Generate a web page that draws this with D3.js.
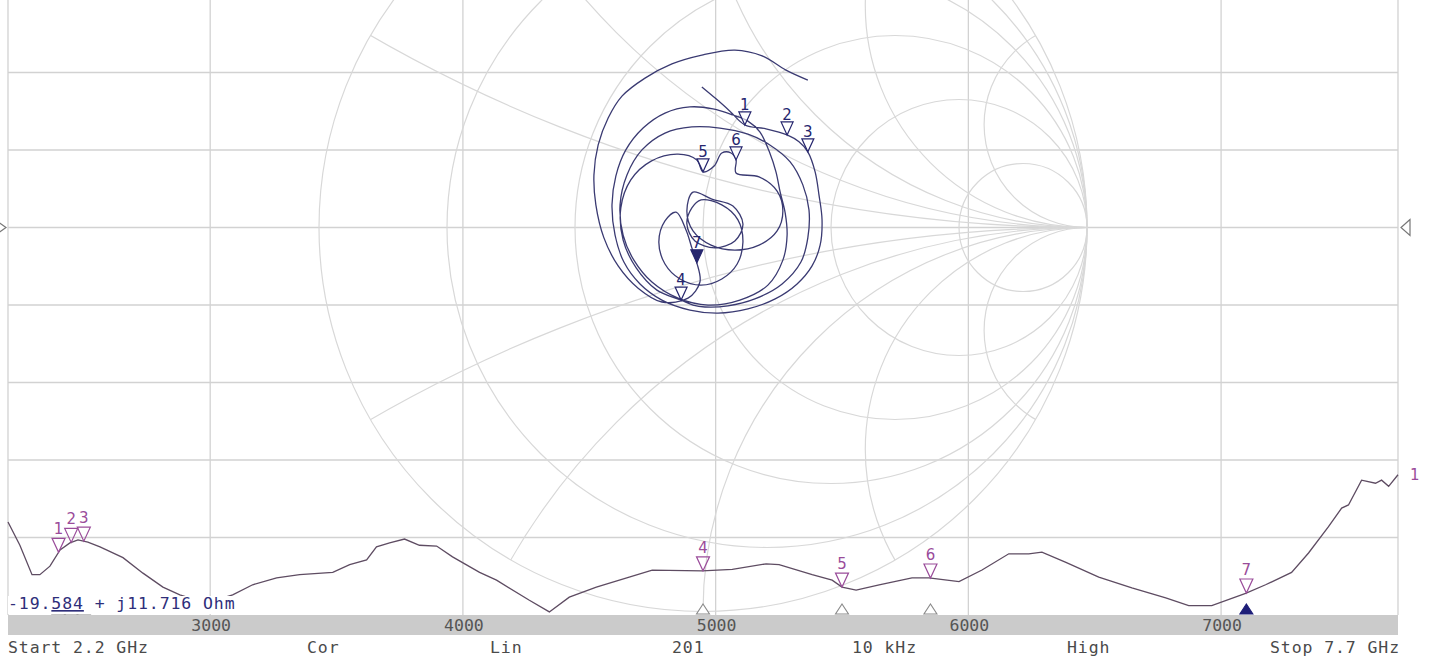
<!DOCTYPE html>
<html>
<head>
<meta charset="utf-8">
<script src="https://cdn.jsdelivr.net/npm/d3@7"></script>
<style>
  html, body { margin: 0; padding: 0; background: #fff; overflow: hidden; }
  svg { display: block; }
  text { font-family: "DejaVu Sans Mono", monospace; }
</style>
</head>
<body>
<svg id="chart" width="1429" height="664"></svg>
<script>
// sweep settings
const startMHz = 2200, stopMHz = 7700;
const freqTicks = [3000, 4000, 5000, 6000, 7000];
const swrGrid = [2, 3, 4, 5, 6, 7, 8, 9, 10];

// Smith trace (reflection coefficient)
const smithFreq = [2200, 2270, 2340, 2400, 2425, 2450, 2475, 2500,
  2540, 2580, 2620, 2660, 2700, 2740, 2780, 2820, 2860, 2900, 2940, 2980, 3020, 3060, 3100,
  3140, 3180, 3220, 3260, 3300, 3340, 3380, 3420, 3460, 3500,
  3540, 3580, 3620, 3660, 3700, 3740, 3780, 3820, 3860, 3900, 3940, 3980, 4020, 4060, 4100,
  4140, 4180, 4220, 4260, 4300, 4340, 4380, 4420, 4460, 4500, 4560, 4620, 4680, 4740, 4840, 4950,
  5020, 5090, 5160, 5230, 5300, 5370, 5440, 5470, 5500, 5580, 5660, 5740, 5850,
  5880, 5910, 5940, 5970, 6000, 6030, 6060, 6090, 6120, 6150,
  6180, 6210, 6250, 6290, 6330, 6370, 6410, 6450, 6490, 6530,
  6570, 6610, 6650, 6690, 6730, 6770, 6810, 6850, 6890, 6930,
  6970, 7010, 7050, 7100,
  7150, 7200, 7250, 7290, 7330, 7370, 7410, 7450, 7490, 7530, 7560, 7590, 7620, 7645, 7665,
  7680, 7690, 7700];
const smithRe = [-0.003, 0.034, 0.070, 0.109, 0.164, 0.219, 0.250, 0.273,
  0.292, 0.302, 0.310, 0.305, 0.284, 0.245, 0.188, 0.117, 0.039, -0.034, -0.107, -0.164, -0.206, -0.229, -0.237,
  -0.227, -0.201, -0.156, -0.099, -0.034, 0.026, 0.078, 0.117, 0.148, 0.174,
  0.190, 0.201, 0.214, 0.219, 0.208, 0.169, 0.096, 0.013, -0.065, -0.133, -0.180, -0.208, -0.216, -0.198, -0.159,
  -0.099, -0.029, 0.044, 0.117, 0.174, 0.227, 0.260, 0.276, 0.273, 0.255, 0.206, 0.135, 0.065, 0.005, -0.026, -0.057,
  -0.120, -0.174, -0.208, -0.214, -0.188, -0.135, -0.065, -0.016, 0.000, 0.029, 0.049, 0.073, 0.086,
  0.086, 0.146, 0.193, 0.208, 0.193, 0.146, 0.083, 0.021, -0.026, -0.042,
  -0.026, 0.023, 0.078, 0.104, 0.083, 0.031, -0.021, -0.042, -0.029, -0.005,
  0.049, 0.091, 0.104, 0.089, 0.049, -0.005, -0.060, -0.099, -0.115, -0.099,
  -0.070, -0.044, -0.029, -0.016,
  -0.008, -0.039, -0.107, -0.169, -0.221, -0.258, -0.279, -0.284, -0.273, -0.247, -0.211, -0.151, -0.081, -0.003, 0.083,
  0.154, 0.216, 0.273];
const smithIm = [0.366, 0.335, 0.303, 0.267, 0.257, 0.241, 0.223, 0.197,
  0.145, 0.085, 0.020, -0.046, -0.100, -0.147, -0.186, -0.212, -0.223, -0.215, -0.189, -0.147, -0.090, -0.020, 0.059,
  0.134, 0.202, 0.259, 0.298, 0.314, 0.309, 0.293, 0.277, 0.249, 0.194,
  0.145, 0.092, 0.038, -0.020, -0.085, -0.150, -0.189, -0.202, -0.184, -0.142, -0.085, -0.020, 0.059, 0.137, 0.202,
  0.246, 0.262, 0.259, 0.243, 0.215, 0.171, 0.111, 0.046, -0.027, -0.090, -0.147, -0.186, -0.204, -0.207, -0.202, -0.189,
  -0.163, -0.105, -0.033, 0.051, 0.124, 0.173, 0.191, 0.176, 0.145, 0.160, 0.194, 0.194, 0.176,
  0.142, 0.132, 0.095, 0.043, -0.009, -0.046, -0.059, -0.046, -0.009, 0.043,
  0.092, 0.074, 0.056, 0.009, -0.035, -0.053, -0.035, 0.009, 0.051, 0.072,
  0.059, 0.020, -0.038, -0.095, -0.134, -0.150, -0.134, -0.095, -0.038, 0.017,
  0.040, -0.007, -0.053, -0.092,
  -0.142, -0.184, -0.194, -0.158, -0.100, -0.027, 0.059, 0.137, 0.215, 0.285, 0.342, 0.389, 0.426, 0.449, 0.462,
  0.447, 0.410, 0.384];

// SWR trace in the rectangular grid
const swrFreq = [2200, 2247, 2295, 2326, 2366, 2406, 2445, 2477, 2516, 2564, 2655, 2734, 2813, 2880,
  2959, 3018, 3089, 3168, 3263, 3354, 3485, 3552, 3619, 3658, 3710, 3769, 3828, 3896, 3959,
  4066, 4133, 4263, 4342, 4421, 4528, 4658, 4749, 4947, 5066, 5200, 5251, 5382, 5461, 5500,
  5556, 5647, 5777, 5844, 5963, 6054, 6160, 6239, 6291, 6386, 6516, 6647, 6781, 6872, 6963,
  7097, 7176, 7279, 7346, 7425, 7477, 7504, 7556, 7611, 7635, 7663, 7700];
const swrVal = [2.20, 1.90, 1.52, 1.52, 1.63, 1.84, 1.93, 1.97, 1.94, 1.88, 1.74, 1.54, 1.36, 1.26,
  1.18, 1.19, 1.26, 1.39, 1.48, 1.52, 1.55, 1.65, 1.71, 1.88, 1.93, 1.98, 1.90, 1.89, 1.75,
  1.55, 1.45, 1.19, 1.04, 1.23, 1.36, 1.49, 1.58, 1.57, 1.59, 1.66, 1.65, 1.52, 1.45, 1.36,
  1.32, 1.39, 1.48, 1.48, 1.43, 1.58, 1.79, 1.79, 1.81, 1.68, 1.49, 1.35, 1.22, 1.12, 1.12,
  1.28, 1.39, 1.55, 1.80, 2.14, 2.38, 2.42, 2.74, 2.70, 2.74, 2.66, 2.81];

// markers
const markerIds = [1, 2, 3, 4, 5, 6, 7];
const markerFreq = [2400, 2450, 2500, 4950, 5500, 5850, 7100];
const activeMarker = 7;

// Smith grid values
const rCircles = [0.2, 0.5, 1, 2, 5];
const xArcs = [0.268, 0.577, 1, 1.732, 3.732];

// texts
const statusLabels = ["Start 2.2 GHz", "Cor", "Lin", "201", "10 kHz", "High", "Stop 7.7 GHz"];
const statusX = [8, 307, 490, 672, 852, 1067, 1270];
const readoutParts = ["-19.", "584", " + j11.716 Ohm"];

const svg = d3.select("#chart");
const plot = {left: 8, right: 1398, top: -160, bottom: 615};

const x = d3.scaleLinear().domain([startMHz, stopMHz]).range([plot.left, plot.right]);
const y = d3.scaleLinear().domain([1, 11]).range([plot.bottom, plot.top]);

const cx = (plot.left + plot.right) / 2, cy = (plot.top + plot.bottom) / 2, R = 384;
const gx = d3.scaleLinear().domain([-1, 1]).range([cx - R, cx + R]);
const gy = d3.scaleLinear().domain([-1, 1]).range([cy + R, cy - R]);

const gridColor = "#d2d2d2", smithColor = "#d8d8d8";
const smithTrace = "#3a3a72", swrTrace = "#5e4c62";
const smithMark = "#26266e", swrMark = "#9a4c9a";

// rectangular grid
const grid = svg.append("g");
grid.selectAll(".vl").data([startMHz, ...freqTicks, stopMHz]).enter().append("line")
  .attr("x1", d => x(d)).attr("x2", d => x(d))
  .attr("y1", 0).attr("y2", plot.bottom)
  .attr("stroke", gridColor).attr("stroke-width", 1.3);
grid.selectAll(".hl").data(swrGrid).enter().append("line")
  .attr("x1", plot.left).attr("x2", plot.right)
  .attr("y1", d => y(d)).attr("y2", d => y(d))
  .attr("stroke", gridColor).attr("stroke-width", 1.3);

// Smith chart grid
svg.append("clipPath").attr("id", "unit")
  .append("circle").attr("cx", cx).attr("cy", cy).attr("r", R);
const sg = svg.append("g").attr("fill", "none").attr("stroke", smithColor).attr("stroke-width", 1.2);
sg.append("circle").attr("cx", cx).attr("cy", cy).attr("r", R);
sg.selectAll(".rc").data(rCircles).enter().append("circle")
  .attr("cx", d => gx(d / (d + 1))).attr("cy", cy)
  .attr("r", d => R / (d + 1));
const arcs = xArcs.flatMap(v => [v, -v]);
sg.append("g").attr("clip-path", "url(#unit)")
  .selectAll(".xc").data(arcs).enter().append("circle")
  .attr("cx", gx(1)).attr("cy", d => gy(1 / d))
  .attr("r", d => R / Math.abs(d));

// SWR trace
const swrPts = swrFreq.map((f, i) => [x(f), y(swrVal[i])]);
svg.append("path").datum(swrPts)
  .attr("d", d3.line())
  .attr("fill", "none").attr("stroke", swrTrace).attr("stroke-width", 1.3);

// Smith trace
const smithPts = smithFreq.map((f, i) => [gx(smithRe[i]), gy(smithIm[i])]);
svg.append("path").datum(smithPts)
  .attr("d", d3.line().curve(d3.curveCatmullRom.alpha(0.5)))
  .attr("fill", "none").attr("stroke", smithTrace).attr("stroke-width", 1.3);

function interp(fs, vs, f) {
  const i = Math.max(1, d3.bisectLeft(fs, f));
  const t = (f - fs[i - 1]) / (fs[i] - fs[i - 1]);
  return vs[i - 1] + t * (vs[i] - vs[i - 1]);
}
const down = (px, py, w, h) => `M${px - w / 2},${py - h}L${px + w / 2},${py - h}L${px},${py}Z`;
const up = (px, py, w, h) => `M${px - w / 2},${py}L${px + w / 2},${py}L${px},${py - h}Z`;

// markers on Smith trace
const smk = svg.append("g");
markerIds.forEach((id, k) => {
  const f = markerFreq[k];
  const px = gx(interp(smithFreq, smithRe, f)), py = gy(interp(smithFreq, smithIm, f));
  const act = id === activeMarker;
  smk.append("path").attr("d", down(px, py, 12, 13))
    .attr("fill", act ? smithMark : "#fff").attr("fill-opacity", act ? 1 : 0.6)
    .attr("stroke", smithMark).attr("stroke-width", 1.2);
  smk.append("text").attr("x", px).attr("y", py - 15).attr("text-anchor", "middle")
    .style("font-family", "DejaVu Sans, sans-serif").attr("font-size", 15)
    .attr("fill", smithMark).text(id);
});

// markers on SWR trace
const wmk = svg.append("g");
markerIds.forEach((id, k) => {
  const f = markerFreq[k];
  const px = x(f), py = y(interp(swrFreq, swrVal, f));
  wmk.append("path").attr("d", down(px, py, 13, 14))
    .attr("fill", "none").attr("stroke", swrMark).attr("stroke-width", 1.2);
  wmk.append("text").attr("x", px).attr("y", py - 18).attr("text-anchor", "middle")
    .style("font-family", "DejaVu Sans, sans-serif").attr("font-size", 15)
    .attr("fill", swrMark).text(id);
});

// trace number at the right end
svg.append("text").attr("x", plot.right + 12).attr("y", y(swrVal[swrVal.length - 1]) + 5)
  .style("font-family", "DejaVu Sans, sans-serif").attr("font-size", 15)
  .attr("fill", swrMark).text("1");

// reference position arrows
svg.append("path").attr("d", `M${plot.left - 12},${cy - 7}L${plot.left - 2},${cy}L${plot.left - 12},${cy + 7}`)
  .attr("fill", "none").attr("stroke", "#777").attr("stroke-width", 1.2);
svg.append("path").attr("d", `M${plot.right + 12},${cy - 8}L${plot.right + 3},${cy}L${plot.right + 12},${cy + 8}Z`)
  .attr("fill", "#fff").attr("stroke", "#777").attr("stroke-width", 1.2);

// marker positions along the frequency axis
markerIds.forEach((id, k) => {
  const act = id === activeMarker;
  svg.append("path").attr("d", up(x(markerFreq[k]), plot.bottom - 1, 13, 10))
    .attr("fill", act ? "#1e1e78" : "#fff").attr("stroke", act ? "#1e1e78" : "#8a8a8a")
    .attr("stroke-width", 1.1);
});

// marker readout
svg.append("rect").attr("x", plot.left).attr("y", 596).attr("width", 230).attr("height", 18).attr("fill", "#fff");
const ro = svg.append("text").attr("x", plot.left).attr("y", 609)
  .attr("font-size", 16.5).attr("letter-spacing", 0.9).attr("fill", "#2e2e7a");
readoutParts.forEach((s, i) => {
  ro.append("tspan").attr("text-decoration", i === 1 ? "underline" : null).text(s);
});

// frequency axis bar
svg.append("rect").attr("x", plot.left).attr("y", plot.bottom).attr("width", plot.right - plot.left)
  .attr("height", 20).attr("fill", "#cbcbcb");
svg.selectAll(".ft").data(freqTicks).enter().append("text")
  .attr("x", d => x(d) + 1).attr("y", 631).attr("text-anchor", "middle")
  .attr("font-size", 16.5).attr("fill", "#555").text(d => d);

// status line
svg.selectAll(".st").data(statusLabels).enter().append("text")
  .attr("x", (d, i) => statusX[i]).attr("y", 653)
  .attr("font-size", 16.5).attr("letter-spacing", 0.9).attr("fill", "#4a4a4a").text(d => d);
</script>
</body>
</html>
